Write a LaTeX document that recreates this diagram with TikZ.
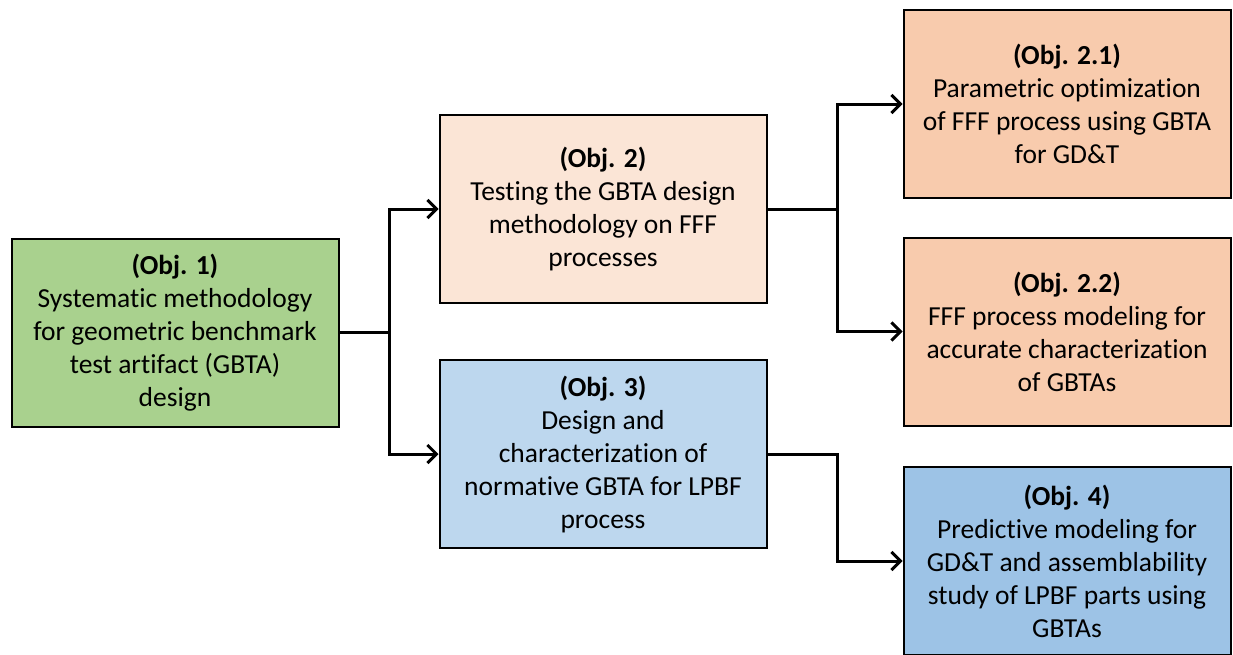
\documentclass[tikz,border=0pt]{standalone}
\usepackage{fontspec}
\setmainfont{Carlito}[RawFeature=-liga]
\usetikzlibrary{arrows.meta}
\definecolor{cgreen}{HTML}{A9D18E}
\definecolor{cpeachl}{HTML}{FBE5D6}
\definecolor{cpeach}{HTML}{F8CBAD}
\definecolor{cbluel}{HTML}{BDD7EE}
\definecolor{cblue}{HTML}{9DC3E6}
\tikzset{
  objbox/.style={draw=black, line width=2pt, minimum width=327pt, minimum height=188pt,
    inner sep=0pt, align=center, font=\fontsize{27.5}{33}\selectfont},
  conn/.style={line width=3pt, line cap=rect},
  arr/.style={line width=3pt, -{Straight Barb[length=9pt,width=18pt,line width=3pt]}},
}
\begin{document}
\begin{tikzpicture}[x=1pt,y=-1pt]
\useasboundingbox (0,0) rectangle (1233,654);
\node[objbox, fill=cgreen] (o1) at (175,332.5) {\textbf{(Obj. 1)}\\Systematic methodology\\for geometric benchmark\\test artifact (GBTA)\\design};
\node[objbox, fill=cpeachl] (o2) at (603,209) {\textbf{(Obj. 2)}\\Testing the GBTA design\\methodology on FFF\\processes};
\node[objbox, fill=cbluel] (o3) at (603,454) {\textbf{(Obj. 3)}\\Design and\\characterization of\\normative GBTA for LPBF\\process};
\node[objbox, fill=cpeach] (o21) at (1067,104) {\textbf{(Obj. 2.1)}\\Parametric optimization\\of FFF process using GBTA\\for GD\&T};
\node[objbox, fill=cpeach] (o22) at (1067,331.5) {\textbf{(Obj. 2.2)}\\FFF process modeling for\\accurate characterization\\of GBTAs};
\node[objbox, fill=cblue] (o4) at (1067,561) {\textbf{(Obj. 4)}\\Predictive modeling for\\GD\&T and assemblability\\study of LPBF parts using\\GBTAs};
\coordinate (j1) at (389,332.5);
\coordinate (j2) at (837,209);
\draw[conn] (o1.east) -- (j1);
\draw[arr] (j1) |- (o2.west);
\draw[arr] (j1) |- (o3.west);
\draw[conn] (o2.east) -- (j2);
\draw[arr] (j2) |- (o21.west);
\draw[arr] (j2) |- (o22.west);
\draw[arr] (o3.east) -- ++(70,0) |- (o4.west);
\end{tikzpicture}
\end{document}
